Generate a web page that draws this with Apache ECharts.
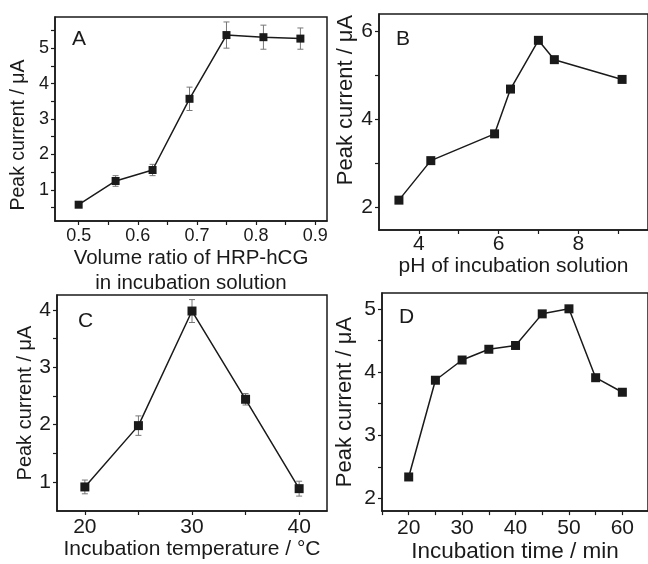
<!DOCTYPE html>
<html><head><meta charset="utf-8">
<script src="https://cdn.jsdelivr.net/npm/echarts@6/dist/echarts.min.js"></script>
<style>html,body{margin:0;padding:0;background:#fff}#c{width:648px;height:564px}</style>
</head><body><div id="c"></div>
<script>
// Panel A
const aX = [0.5, 0.5625, 0.625, 0.6875, 0.75, 0.8125, 0.875];
const aY = [0.58, 1.25, 1.56, 3.57, 5.37, 5.31, 5.27];
const aErr = [0.08, 0.15, 0.16, 0.33, 0.37, 0.34, 0.30];
const aXLabels = [0.5, 0.6, 0.7, 0.8, 0.9];
const aXTicks = [0.5, 0.55, 0.6, 0.65, 0.7, 0.75, 0.8, 0.85, 0.9];
const aYLabels = [1, 2, 3, 4, 5];
const aYTicks = [0.5, 1, 1.5, 2, 2.5, 3, 3.5, 4, 4.5, 5, 5.5];
// Panel B
const bX = [3.5, 4.3, 5.9, 6.3, 7.0, 7.4, 9.1];
const bY = [2.16, 3.06, 3.67, 4.69, 5.80, 5.36, 4.91];
const bXLabels = [4, 6, 8];
const bXTicks = [4, 5, 6, 7, 8, 9];
const bYLabels = [2, 4, 6];
const bYTicks = [2, 3, 4, 5, 6];
// Panel C
const cX = [20, 25, 30, 35, 40];
const cY = [0.91, 1.98, 3.98, 2.44, 0.88];
const cErr = [0.12, 0.17, 0.20, 0.10, 0.13];
const cXLabels = [20, 30, 40];
const cXTicks = [20, 25, 30, 35, 40];
const cYLabels = [1, 2, 3, 4];
const cYTicks = [1, 1.5, 2, 2.5, 3, 3.5, 4];
// Panel D
const dX = [20, 25, 30, 35, 40, 45, 50, 55, 60];
const dY = [2.34, 3.87, 4.19, 4.36, 4.42, 4.92, 5.00, 3.91, 3.68];
const dXLabels = [20, 30, 40, 50, 60];
const dXTicks = [15, 20, 25, 30, 35, 40, 45, 50, 55, 60];
const dYLabels = [2, 3, 4, 5];
const dYTicks = [2, 2.5, 3, 3.5, 4, 4.5, 5];

const FONT = 'Liberation Sans, Arial, Helvetica, sans-serif';
const INK = '#1a1a1a';
const yName = 'Peak current / μA';

function pairs(xs, ys) { return xs.map((x, i) => [x, ys[i]]); }
function triples(xs, ys, es) { return xs.map((x, i) => [x, ys[i], es[i]]); }

function xAxisCfg(i, min, max, labels, ticks, name, nameGap, nameSize, tickSize, margin, lineHeight) {
  return {
    type: 'value', gridIndex: i, min: min, max: max,
    name: name, nameLocation: 'middle', nameGap: nameGap,
    nameTextStyle: { fontFamily: FONT, fontSize: nameSize, color: INK, lineHeight: lineHeight || nameSize },
    axisLine: { show: true, lineStyle: { color: INK, width: 1.5 } },
    axisTick: { show: true, inside: false, length: 4, customValues: ticks, lineStyle: { color: INK, width: 1.2 } },
    axisLabel: { customValues: labels, fontFamily: FONT, fontSize: tickSize, color: INK, margin: margin },
    splitLine: { show: false }
  };
}
function yAxisCfg(i, min, max, labels, ticks, nameGap, nameSize, tickSize, pad) {
  return {
    type: 'value', gridIndex: i, min: min, max: max,
    name: yName, nameLocation: 'middle', nameGap: nameGap, nameRotate: 90,
    nameTextStyle: { fontFamily: FONT, fontSize: nameSize, color: INK, padding: pad },
    axisLine: { show: true, lineStyle: { color: INK, width: 1.5 } },
    axisTick: { show: true, inside: false, length: 4, customValues: ticks, lineStyle: { color: INK, width: 1.2 } },
    axisLabel: { customValues: labels, fontFamily: FONT, fontSize: tickSize, color: INK, margin: 6 },
    splitLine: { show: false }
  };
}
function lineSeries(i, data, size) {
  return {
    type: 'line', xAxisIndex: i, yAxisIndex: i, data: data, z: 3,
    symbol: 'rect', symbolSize: size, showSymbol: true,
    lineStyle: { color: INK, width: 1.5 }, itemStyle: { color: INK },
    animation: false
  };
}
function errRender(params, api) {
  const x = api.value(0), y = api.value(1), e = api.value(2);
  const lo = api.coord([x, y - e]), hi = api.coord([x, y + e]);
  const cw = 3;
  const st = { stroke: '#777', lineWidth: 1 };
  return {
    type: 'group', children: [
      { type: 'line', shape: { x1: lo[0], y1: lo[1], x2: hi[0], y2: hi[1] }, style: st },
      { type: 'line', shape: { x1: lo[0] - cw, y1: lo[1], x2: lo[0] + cw, y2: lo[1] }, style: st },
      { type: 'line', shape: { x1: hi[0] - cw, y1: hi[1], x2: hi[0] + cw, y2: hi[1] }, style: st }
    ]
  };
}
function errSeries(i, data) {
  return {
    type: 'custom', xAxisIndex: i, yAxisIndex: i, data: data, z: 2,
    renderItem: errRender, encode: { x: 0, y: 1 }, animation: false, silent: true
  };
}
function panelLabel(text, left, top, size) {
  return { type: 'text', left: left, top: top, z: 10,
    style: { text: text, fontFamily: FONT, fontSize: size, fill: INK } };
}

const gridStyle = { show: true, borderColor: INK, borderWidth: 1.5, containLabel: false };

const option = {
  backgroundColor: '#fff',
  animation: false,
  grid: [
    Object.assign({ left: 55, top: 17, width: 272, height: 204 }, gridStyle),
    Object.assign({ left: 379, top: 14, width: 271, height: 216 }, gridStyle),
    Object.assign({ left: 57, top: 295, width: 270, height: 216 }, gridStyle),
    Object.assign({ left: 382, top: 293, width: 268, height: 221 }, gridStyle)
  ],
  xAxis: [
    xAxisCfg(0, 0.46, 0.92, aXLabels, aXTicks, 'Volume ratio of HRP-hCG\nin incubation solution', 19, 20.5, 18, 6, 25),
    xAxisCfg(1, 3.0, 9.75, bXLabels, bXTicks, 'pH of incubation solution', 24, 21, 21, 4),
    xAxisCfg(2, 17.4, 42.6, cXLabels, cXTicks, 'Incubation temperature / °C', 28, 21, 21, 6),
    xAxisCfg(3, 15, 64.8, dXLabels, dXTicks, 'Incubation time / min', 29, 22.5, 21, 7)
  ],
  yAxis: [
    yAxisCfg(0, 0.12, 5.88, aYLabels, aYTicks, 26, 19.5, 18, [0, 32, 0, 0]),
    yAxisCfg(1, 1.48, 6.4, bYLabels, bYTicks, 21, 22, 21, [0, 0, 0, 44]),
    yAxisCfg(2, 0.49, 4.26, cYLabels, cYTicks, 21, 20, 21, [0, 0, 0, 0]),
    yAxisCfg(3, 1.8, 5.25, dYLabels, dYTicks, 26, 22, 21, [0, 0, 0, 0])
  ],
  series: [
    errSeries(0, triples(aX, aY, aErr)),
    lineSeries(0, pairs(aX, aY), 8),
    lineSeries(1, pairs(bX, bY), 9),
    errSeries(2, triples(cX, cY, cErr)),
    lineSeries(2, pairs(cX, cY), 9),
    lineSeries(3, pairs(dX, dY), 9)
  ],
  graphic: [
    panelLabel('A', 72, 29, 21),
    panelLabel('B', 396, 29, 21),
    panelLabel('C', 78, 311, 21),
    panelLabel('D', 399, 307, 21)
  ]
};
const chart = echarts.init(document.getElementById('c'), null, { renderer: 'canvas' });
chart.setOption(option);
</script></body></html>
